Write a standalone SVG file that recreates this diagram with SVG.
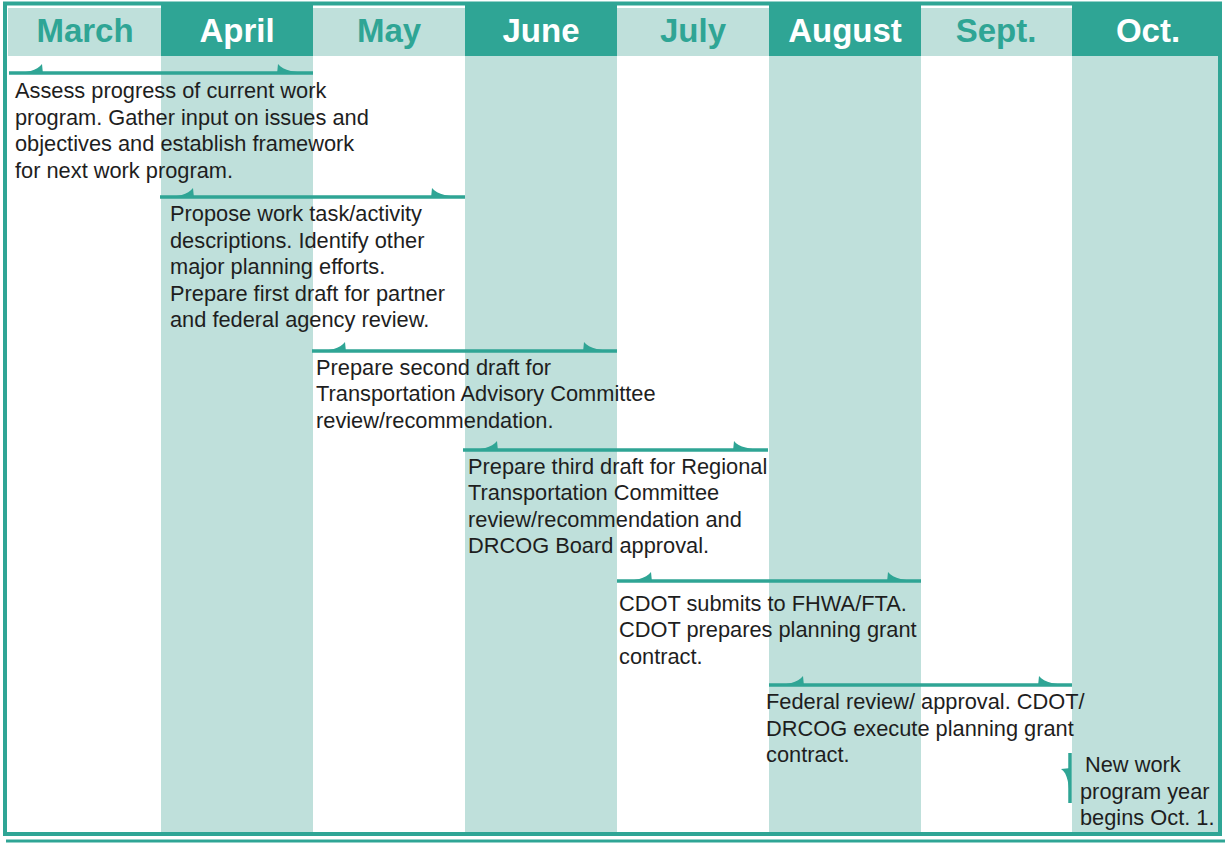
<svg xmlns="http://www.w3.org/2000/svg" width="1225" height="843" viewBox="0 0 1225 843">
<style>
.hd{font-family:"Liberation Sans",Arial,sans-serif;font-weight:bold;font-size:33px;text-anchor:middle}
.hl{fill:#2fa595}
.hw{fill:#ffffff}
.t{font-family:"Liberation Sans",Arial,sans-serif;font-size:21.8px;fill:#1e1e1e}
.ln{stroke:#2fa595;stroke-width:3.5;fill:none}
.fin{fill:#2fa595}
</style>
<rect x="0" y="0" width="1225" height="843" fill="#ffffff"/>
<g id="columns">
<rect x="161" y="56" width="152" height="777" fill="#bfe0db"/>
<rect x="465" y="56" width="152" height="777" fill="#bfe0db"/>
<rect x="769" y="56" width="152" height="777" fill="#bfe0db"/>
<rect x="1072" y="56" width="148" height="777" fill="#bfe0db"/>
</g>
<g id="header">
<rect x="8" y="8" width="153" height="48" fill="#bfe0db"/>
<rect x="161" y="5" width="152" height="51" fill="#2fa595"/>
<rect x="313" y="8" width="152" height="48" fill="#bfe0db"/>
<rect x="465" y="5" width="152" height="51" fill="#2fa595"/>
<rect x="617" y="8" width="152" height="48" fill="#bfe0db"/>
<rect x="769" y="5" width="152" height="51" fill="#2fa595"/>
<rect x="921" y="8" width="151" height="48" fill="#bfe0db"/>
<rect x="1072" y="5" width="150" height="51" fill="#2fa595"/>
<text class="hd hl" x="85" y="42">March</text>
<text class="hd hw" x="237" y="42">April</text>
<text class="hd hl" x="389" y="42">May</text>
<text class="hd hw" x="541" y="42">June</text>
<text class="hd hl" x="693" y="42">July</text>
<text class="hd hw" x="845" y="42">August</text>
<text class="hd hl" x="996" y="42">Sept.</text>
<text class="hd hw" x="1148" y="42">Oct.</text>
</g>
<g id="frame">
<rect x="5" y="3.5" width="1215" height="830.5" fill="none" stroke="#2fa595" stroke-width="4"/>
<line x1="6" y1="841" x2="1225" y2="841" stroke="#2fa595" stroke-width="3"/>
</g>
<g id="connectors">
<line class="ln" x1="9" y1="73" x2="313" y2="73"/>
<path class="fin" d="M15,74 C26,72 37,71 42,64 L43,74 Z"/>
<path class="fin" d="M278,64 C283,71 296,72 312,74 L277,74 Z"/>
<line class="ln" x1="160" y1="197" x2="465" y2="197"/>
<path class="fin" d="M166,198 C177,196 188,195 193,188 L194,198 Z"/>
<path class="fin" d="M432,188 C437,195 450,196 464,198 L431,198 Z"/>
<line class="ln" x1="312" y1="351" x2="617" y2="351"/>
<path class="fin" d="M318,352 C329,350 340,349 345,342 L346,352 Z"/>
<path class="fin" d="M584,342 C589,349 602,350 616,352 L583,352 Z"/>
<line class="ln" x1="463" y1="450" x2="768" y2="450"/>
<path class="fin" d="M469,451 C480,449 492,448 497,441 L498,451 Z"/>
<path class="fin" d="M734,441 C739,448 752,449 767,451 L733,451 Z"/>
<line class="ln" x1="617" y1="581" x2="921" y2="581"/>
<path class="fin" d="M623,582 C634,580 646,579 651,572 L652,582 Z"/>
<path class="fin" d="M888,572 C893,579 906,580 920,582 L887,582 Z"/>
<line class="ln" x1="769" y1="685" x2="1072" y2="685"/>
<path class="fin" d="M775,686 C786,684 798,683 803,676 L804,686 Z"/>
<path class="fin" d="M1039,676 C1044,683 1057,684 1071,686 L1038,686 Z"/>
<line class="ln" x1="1070" y1="753" x2="1070" y2="803"/>
<path class="fin" d="M1061,769 C1068,773 1069,786 1070,800 L1071,768 Z"/>
</g>
<g id="task1">
<text class="t" x="15" y="98">Assess progress of current work</text>
<text class="t" x="15" y="124.5">program. Gather input on issues and</text>
<text class="t" x="15" y="151">objectives and establish framework</text>
<text class="t" x="15" y="177.5">for next work program.</text>
</g>
<g id="task2">
<text class="t" x="170" y="221">Propose work task/activity</text>
<text class="t" x="170" y="247.5">descriptions. Identify other</text>
<text class="t" x="170" y="274">major planning efforts.</text>
<text class="t" x="170" y="300.5">Prepare first draft for partner</text>
<text class="t" x="170" y="327">and federal agency review.</text>
</g>
<g id="task3">
<text class="t" x="316" y="374.5">Prepare second draft for</text>
<text class="t" x="316" y="401">Transportation Advisory Committee</text>
<text class="t" x="316" y="427.5">review/recommendation.</text>
</g>
<g id="task4">
<text class="t" x="468" y="473.5">Prepare third draft for Regional</text>
<text class="t" x="468" y="500">Transportation Committee</text>
<text class="t" x="468" y="526.5">review/recommendation and</text>
<text class="t" x="468" y="553">DRCOG Board approval.</text>
</g>
<g id="task5">
<text class="t" x="619" y="610.5">CDOT submits to FHWA/FTA.</text>
<text class="t" x="619" y="637">CDOT prepares planning grant</text>
<text class="t" x="619" y="663.5">contract.</text>
</g>
<g id="task6">
<text class="t" x="766" y="709">Federal review/ approval. CDOT/</text>
<text class="t" x="766" y="735.5">DRCOG execute planning grant</text>
<text class="t" x="766" y="762">contract.</text>
</g>
<g id="task7">
<text class="t" x="1085" y="772">New work</text>
<text class="t" x="1080" y="798.5">program year</text>
<text class="t" x="1080" y="825">begins Oct. 1.</text>
</g>
</svg>
